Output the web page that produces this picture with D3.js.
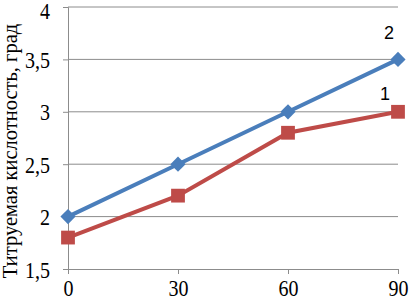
<!DOCTYPE html>
<html><head><meta charset="utf-8">
<script src="https://cdn.jsdelivr.net/npm/d3@7"></script>
<style>body{margin:0;background:#fff}svg{display:block}</style>
</head><body>
<svg id="c" width="409" height="301"></svg>
<script>
const xValues = [0, 30, 60, 90];
const series1 = [1.8, 2.2, 2.8, 3.0];
const series2 = [2.0, 2.5, 3.0, 3.5];
const yTicks = [1.5, 2, 2.5, 3, 3.5, 4];
const seriesLabels = ["1", "2"];
const yTitle = "Титруемая кислотность, град";

const SERIF = '"Liberation Serif", "Times New Roman", serif';
const SANS = '"Liberation Sans", Arial, sans-serif';

const svg = d3.select("#c");
const x = d3.scaleLinear().domain([0, 90]).range([68, 398]);
const y = d3.scaleLinear().domain([1.5, 4]).range([269, 7]);
const fmt = d => String(d).replace(".", ",");

svg.append("g").selectAll("line").data(yTicks.filter(d => d > 1.5)).join("line")
  .attr("x1", x(0)).attr("x2", x(90)).attr("y1", d => y(d)).attr("y2", d => y(d))
  .attr("stroke", "#8c8c8c").attr("stroke-width", 1);

const ya = svg.append("g").attr("transform", `translate(${x(0)},0)`)
  .call(d3.axisLeft(y).tickValues(yTicks).tickFormat(fmt).tickSize(5).tickPadding(5));
const xa = svg.append("g").attr("transform", `translate(0,${y(1.5)})`)
  .call(d3.axisBottom(x).tickValues(xValues).tickSize(5).tickPadding(5));
[ya, xa].forEach(a => {
  a.attr("font-family", null).attr("font-size", null);
  a.select(".domain").attr("stroke", "#8c8c8c");
  a.selectAll(".tick line").attr("stroke", "#8c8c8c");
  a.selectAll("text").style("font-family", SERIF).style("font-size", "20px")
    .style("font-weight", "normal").attr("fill", "#000");
});
ya.selectAll("text").attr("x", 0).attr("y", 0).attr("dy", 0)
  .attr("transform", d => d === 4 ? "translate(-18,11) scale(1,1.15)" : "translate(-18,8) scale(1,1.15)");
xa.selectAll("text").attr("y", 0).attr("dy", 0)
  .attr("transform", "translate(0,27) scale(1,1.15)");

svg.append("text").style("font-family", SERIF)
  .attr("transform", `translate(17,151) rotate(-90)`)
  .attr("text-anchor", "middle").style("font-size", "20.5px")
  .text(yTitle);

const line = d3.line().x((d, i) => x(xValues[i])).y(d => y(d));
const red = "#be4b48", blue = "#4a7ebb";

svg.append("path").datum(series1).attr("d", line).attr("fill", "none")
  .attr("stroke", red).attr("stroke-width", 4);
svg.append("g").selectAll("path").data(series1).join("path")
  .attr("d", d3.symbol(d3.symbolSquare, 190))
  .attr("transform", (d, i) => `translate(${x(xValues[i])},${y(d)})`)
  .attr("fill", red);

svg.append("path").datum(series2).attr("d", line).attr("fill", "none")
  .attr("stroke", blue).attr("stroke-width", 4);
svg.append("g").selectAll("path").data(series2).join("path")
  .attr("d", d3.symbol(d3.symbolSquare, 115))
  .attr("transform", (d, i) => `translate(${x(xValues[i])},${y(d)}) rotate(45)`)
  .attr("fill", blue);

svg.append("text").style("font-family", SANS).attr("x", x(90) - 9).attr("y", y(series2[3]) - 20)
  .attr("text-anchor", "middle").style("font-size", "18px").text(seriesLabels[1]);
svg.append("text").style("font-family", SANS).attr("x", x(90) - 13).attr("y", y(series1[3]) - 12)
  .attr("text-anchor", "middle").style("font-size", "18px").text(seriesLabels[0]);
</script>
</body></html>
